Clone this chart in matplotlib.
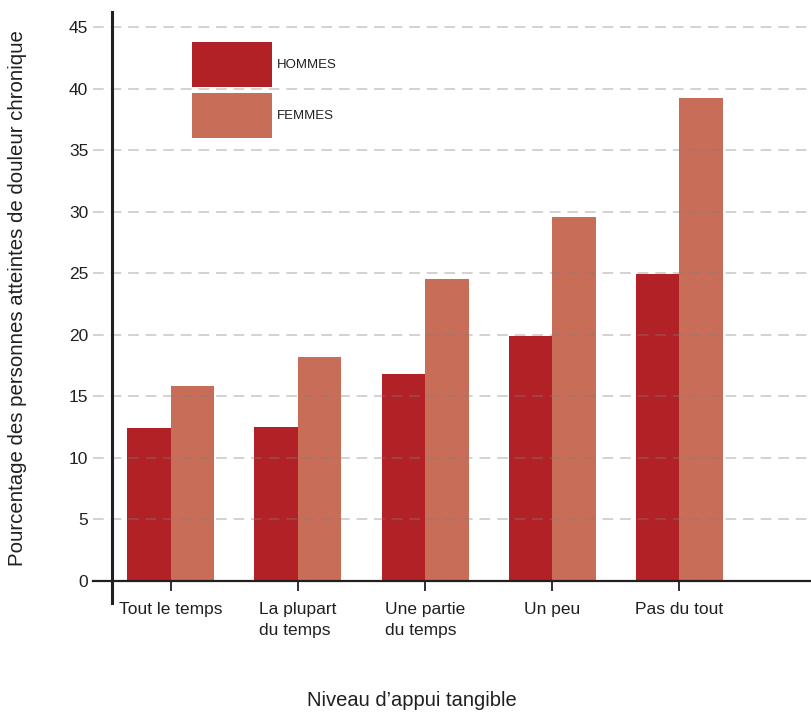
import matplotlib
matplotlib.use('Agg')
import matplotlib.pyplot as plt
import numpy as np

# data
categories = ['Tout le temps', 'La plupart\ndu temps', 'Une partie\ndu temps', 'Un peu', 'Pas du tout']
hommes = [12.4, 12.5, 16.8, 19.9, 24.9]
femmes = [15.8, 18.2, 24.5, 29.6, 39.2]
series_labels = ['HOMMES', 'FEMMES']
y_ticks = [0, 5, 10, 15, 20, 25, 30, 35, 40, 45]

col_h = '#b22125'
col_f = '#c86d57'
ink = '#231f20'

plt.rcParams['font.family'] = ['Liberation Sans', 'DejaVu Sans']

fig = plt.figure(figsize=(8.12, 7.12), dpi=100)
ax = fig.add_axes([93 / 812, 1 - 603 / 712, 1 - 93 / 812, (603 - 12) / 712])

x = np.arange(len(categories))
w = 0.3425
ax.bar(x - w / 2, hommes, w, color=col_h, label=series_labels[0], zorder=2)
ax.bar(x + w / 2, femmes, w, color=col_f, label=series_labels[1], zorder=2)

ax.set_xlim(-0.614, 5.047)
ax.set_ylim(-1.79, 46.22)

# axis lines: vertical one a bit right of the left edge, horizontal one at zero
for s in ['top', 'right']:
    ax.spines[s].set_visible(False)
ax.spines['bottom'].set_position(('data', 0))
ax.spines['bottom'].set_linewidth(1.6)
ax.spines['bottom'].set_color(ink)
ax.spines['left'].set_position(('data', -0.465))
ax.spines['left'].set_linewidth(2.2)
ax.spines['left'].set_color(ink)
ax.spines['left'].set_zorder(4)
ax.spines['bottom'].set_zorder(4)

ax.set_yticks(y_ticks)
ax.set_yticklabels([str(v) for v in y_ticks], fontsize=12.5, color=ink)
ax.tick_params(axis='y', length=0, pad=17)
ax.set_axisbelow(False)
ax.yaxis.grid(True, linestyle=(0, (7, 4.5)), color='#808080', alpha=0.45, linewidth=1.1)

ax.set_xticks(x)
ax.set_xticklabels(categories, fontsize=12.5, color=ink, multialignment='left', linespacing=1.55)
ax.tick_params(axis='x', length=7, width=1.3, color=ink, pad=8, direction='out')

fig.text(18 / 812, 1 - 298 / 712, 'Pourcentage des personnes atteintes de douleur chronique',
         rotation=90, ha='center', va='center', fontsize=14.7, color=ink)
fig.text(412 / 812, 1 - 700 / 712, 'Niveau d\u2019appui tangible',
         ha='center', va='center', fontsize=14.5, color=ink)

ax.legend(loc='upper left', bbox_to_anchor=(192 / 812, 1 - 42 / 712), bbox_transform=fig.transFigure,
          frameon=False, fontsize=9.5, handlelength=6.1, handleheight=4.9, handletextpad=0.3,
          labelspacing=0.45, borderpad=0, borderaxespad=0, labelcolor=ink)

fig.savefig('out.png', dpi=100)
